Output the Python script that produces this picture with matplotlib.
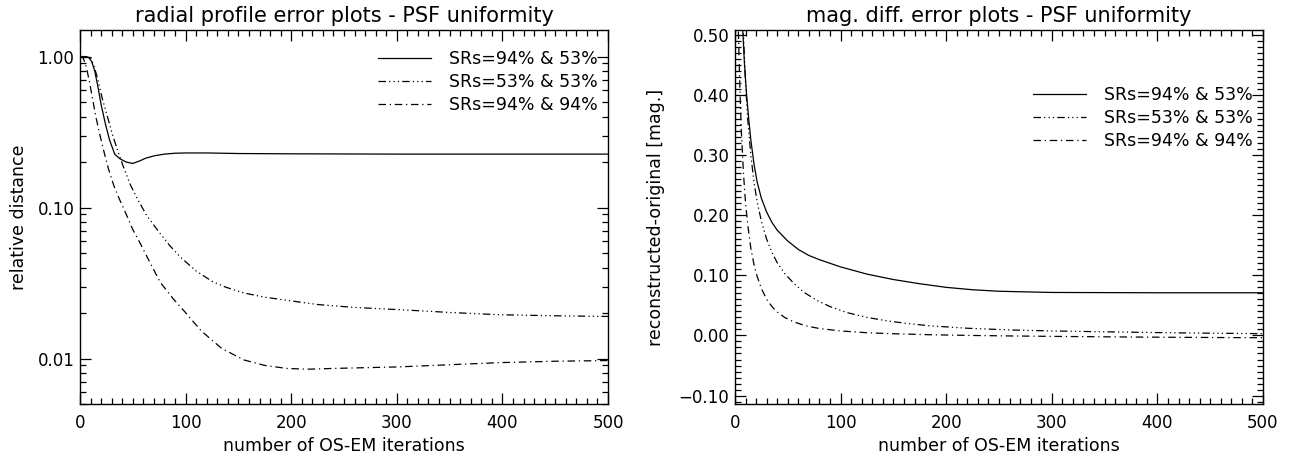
import numpy as np
import matplotlib
matplotlib.use("Agg")
import matplotlib.pyplot as plt
from matplotlib.ticker import FixedLocator, FixedFormatter, MultipleLocator, LogLocator, NullFormatter

# series labels
labels = ["SRs=94% & 53%", "SRs=53% & 53%", "SRs=94% & 94%"]

# left panel: radial profile relative distance (log scale)
rad_x_a = [0, 4, 8, 11, 14, 17, 20, 24, 28, 33, 38, 44, 50, 56, 62, 70, 80, 90, 100, 120, 150, 200, 300, 400, 500]
rad_y_a = [1.0, 1.0, 0.99, 0.93, 0.8, 0.63, 0.48, 0.36, 0.28, 0.225, 0.21, 0.2, 0.196, 0.203, 0.212, 0.22, 0.226, 0.229, 0.23, 0.23, 0.228, 0.227, 0.226, 0.226, 0.226]
rad_x_b = [0, 5, 10, 13, 17, 21, 26, 31, 36, 41, 48, 55, 63, 74, 85, 95, 110, 125, 138, 155, 175, 196, 225, 260, 301, 350, 398, 450, 500]
rad_y_b = [1.0, 1.0, 0.98, 0.88, 0.7, 0.53, 0.4, 0.3, 0.235, 0.187, 0.14, 0.112, 0.089, 0.07, 0.056, 0.047, 0.038, 0.0325, 0.0297, 0.0272, 0.0255, 0.0243, 0.0228, 0.0218, 0.0211, 0.0202, 0.0195, 0.0192, 0.019]
rad_x_c = [0, 3, 6, 9, 12, 15, 19, 23, 27, 32, 37, 41, 46, 50, 57, 65, 76, 88, 99, 115, 134, 155, 175, 196, 215, 240, 270, 301, 350, 398, 450, 500]
rad_y_c = [1.0, 0.98, 0.85, 0.68, 0.52, 0.4, 0.3, 0.23, 0.18, 0.14, 0.115, 0.1, 0.083, 0.0715, 0.058, 0.045, 0.032, 0.025, 0.0205, 0.0152, 0.0117, 0.0098, 0.009, 0.0086, 0.0085, 0.0086, 0.0087, 0.0088, 0.0091, 0.0094, 0.0096, 0.0097]

# right panel: magnitude difference
mag_x_a = [5, 7, 9, 11, 13, 15, 18, 21, 25, 30, 35, 40, 50, 60, 70, 80, 100, 125, 150, 175, 200, 225, 250, 300, 400, 500]
mag_y_a = [0.62, 0.52, 0.45, 0.4, 0.36, 0.325, 0.285, 0.255, 0.228, 0.205, 0.188, 0.175, 0.157, 0.143, 0.133, 0.126, 0.114, 0.102, 0.093, 0.086, 0.08, 0.076, 0.0735, 0.0715, 0.071, 0.071]
mag_x_b = [6, 8, 10, 12, 15, 18, 21, 25, 30, 35, 40, 47, 55, 65, 79, 90, 106, 125, 145, 165, 185, 220, 263, 300, 342, 380, 420, 460, 500]
mag_y_b = [0.6, 0.5, 0.42, 0.36, 0.3, 0.255, 0.222, 0.19, 0.16, 0.138, 0.121, 0.103, 0.088, 0.072, 0.057, 0.048, 0.038, 0.03, 0.024, 0.0195, 0.016, 0.012, 0.009, 0.0075, 0.0063, 0.0053, 0.0043, 0.0036, 0.003]
mag_x_c = [2, 3, 4, 5, 6, 8, 10, 12, 15, 18, 21, 25, 30, 35, 40, 47, 55, 67, 80, 100, 125, 150, 185, 224, 260, 303, 340, 381, 440, 500]
mag_y_c = [0.62, 0.52, 0.45, 0.39, 0.34, 0.27, 0.22, 0.185, 0.145, 0.118, 0.098, 0.078, 0.06, 0.048, 0.039, 0.03, 0.023, 0.016, 0.0115, 0.0075, 0.0045, 0.0028, 0.0012, 0.0, -0.0008, -0.0016, -0.0021, -0.0027, -0.0033, -0.0038]

log_ticks = [0.01, 0.1, 1.0]
log_tick_labels = ["0.01", "0.10", "1.00"]
mag_ticks = [-0.1, 0.0, 0.1, 0.2, 0.3, 0.4, 0.5]
mag_tick_labels = ["\u22120.10", "0.00", "0.10", "0.20", "0.30", "0.40", "0.50"]

styles = [
    dict(linestyle="-"),
    dict(linestyle=(0, (6, 2.5, 1, 2.5, 1, 2.5, 1, 2.5))),
    dict(linestyle=(0, (6, 3, 1, 3))),
]

plt.rcParams["font.family"] = ["DejaVu Sans"]
plt.rcParams["font.size"] = 12

fig = plt.figure(figsize=(12.89, 4.54), dpi=100)
ax1 = fig.add_axes([80 / 1289, 1 - 404 / 454, 528 / 1289, 374 / 454])
ax2 = fig.add_axes([735 / 1289, 1 - 404 / 454, 528 / 1289, 374 / 454])

for (x, y), st, lab in zip([(rad_x_a, rad_y_a), (rad_x_b, rad_y_b), (rad_x_c, rad_y_c)], styles, labels):
    ax1.plot(x, y, color="black", lw=0.9, label=lab, **st)
for (x, y), st, lab in zip([(mag_x_a, mag_y_a), (mag_x_b, mag_y_b), (mag_x_c, mag_y_c)], styles, labels):
    ax2.plot(x, y, color="black", lw=0.9, label=lab, **st)

ax1.set_yscale("log")
ax1.set_ylim(0.005, 1.5)
ax1.yaxis.set_major_locator(FixedLocator(log_ticks))
ax1.yaxis.set_major_formatter(FixedFormatter(log_tick_labels))
ax1.yaxis.set_minor_locator(LogLocator(base=10, subs=np.arange(2, 10)))
ax1.yaxis.set_minor_formatter(NullFormatter())
ax1.set_ylabel("relative distance", fontsize=12.5, labelpad=7)
ax1.set_title("radial profile error plots - PSF uniformity", fontsize=15, pad=6)

ax2.set_ylim(-0.114, 0.508)
ax2.yaxis.set_major_locator(FixedLocator(mag_ticks))
ax2.yaxis.set_major_formatter(FixedFormatter(mag_tick_labels))
ax2.yaxis.set_minor_locator(MultipleLocator(0.01))
ax2.set_ylabel("reconstructed-original [mag.]", fontsize=12.5, labelpad=10)
ax2.set_title("mag. diff. error plots - PSF uniformity", fontsize=15, pad=6)

for ax in (ax1, ax2):
    ax.set_xlim(0, 500)
    ax.xaxis.set_major_locator(MultipleLocator(100))
    ax.xaxis.set_minor_locator(MultipleLocator(10))
    ax.set_xlabel("number of OS-EM iterations", fontsize=12.5, labelpad=4)
    ax.tick_params(which="both", direction="in", top=True, right=True, width=0.9)
    ax.tick_params(which="major", length=8)
    ax.tick_params(which="minor", length=4)
    ax.tick_params(axis="x", which="major", pad=7)
    ax.tick_params(axis="y", which="major", pad=4)
    for sp in ax.spines.values():
        sp.set_linewidth(1.0)

ax1.legend(loc="upper right", bbox_to_anchor=(1.0, 0.975), frameon=False, handlelength=3.1,
           handletextpad=1.0, labelspacing=0.3, borderaxespad=0.2, fontsize=12.5)
ax2.legend(loc="upper right", bbox_to_anchor=(1.0, 0.878), frameon=False, handlelength=3.1,
           handletextpad=1.0, labelspacing=0.3, borderaxespad=0.2, fontsize=12.5)

fig.savefig("out.png", dpi=100)
